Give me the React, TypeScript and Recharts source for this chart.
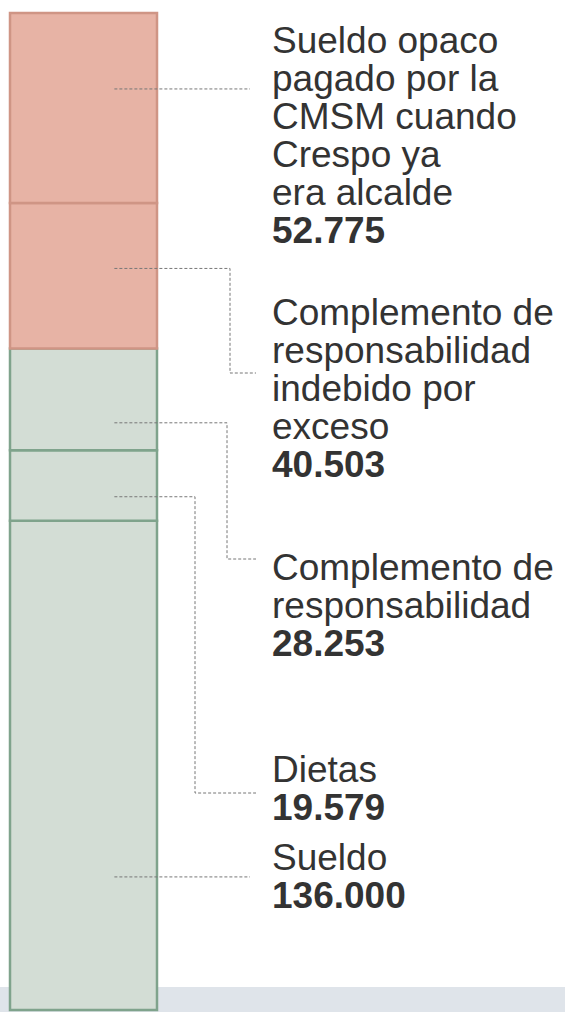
import { BarChart, Bar, XAxis, YAxis } from 'recharts';

// segments, bottom to top
const seriesKeys = ['sueldo', 'dietas', 'complemento', 'indebido', 'opaco'];
const values = [136000, 19579, 28253, 40503, 52775];
const labelLines = [
  ['Sueldo'],
  ['Dietas'],
  ['Complemento de', 'responsabilidad'],
  ['Complemento de', 'responsabilidad', 'indebido por', 'exceso'],
  ['Sueldo opaco', 'pagado por la', 'CMSM cuando', 'Crespo ya', 'era alcalde'],
];

const fill = ['#d3ddd5', '#d3ddd5', '#d3ddd5', '#e7b3a5', '#e7b3a5'];
const stroke = ['#7fa38c', '#7fa38c', '#7fa38c', '#cf9585', '#cf9585'];

// callout layout: where the leader leaves the segment, elbow, and text block
const callouts = [
  { fy: 0.728, elbowX: null, endY: null, textY: 870 },
  { fy: 0.66, elbowX: 195, endY: 793, textY: 782 },
  { fy: 0.73, elbowX: 227, endY: 559, textY: 580 },
  { fy: 0.45, elbowX: 230, endY: 373, textY: 325 },
  { fy: 0.4, elbowX: null, endY: null, textY: 53 },
];

const fmt = (v: number) => String(v).replace(/\B(?=(\d{3})+(?!\d))/g, '.');

const row: { [key: string]: string | number } = { name: 'total' };
seriesKeys.forEach((k, i) => (row[k] = values[i]));
const chartData = [row];
const total = values.reduce((a, b) => a + b, 0);

const TEXT_X = 272;
const LINE_H = 38;

const Callout = (props: any) => {
  const i: number = props.idx;
  const vb = props.viewBox ?? props;
  const { x, y, width, height } = vb;
  const c = callouts[i];
  const sx = x + width * 0.71;
  const sy = y + height * c.fy;
  let d: string;
  if (c.elbowX == null) {
    d = `M${sx},${sy} H${TEXT_X - 22}`;
  } else {
    d = `M${sx},${sy} H${c.elbowX} V${c.endY} H${TEXT_X - 16}`;
  }
  const lines = labelLines[i];
  return (
    <g>
      <path d={d} fill="none" stroke="#777" strokeWidth={1} strokeDasharray="3 2" />
      <text
        x={TEXT_X}
        y={c.textY}
        fontFamily="'Liberation Sans', Arial, sans-serif"
        fontSize={37}
        fill="#333"
      >
        {lines.map((l, j) => (
          <tspan key={j} x={TEXT_X} y={c.textY + j * LINE_H}>
            {l}
          </tspan>
        ))}
        <tspan x={TEXT_X} y={c.textY + lines.length * LINE_H} fontWeight={700}>
          {fmt(values[i])}
        </tspan>
      </text>
    </g>
  );
};

const App = () => {
  return (
    <div style={{ position: 'absolute', left: 0, top: 0, width: 565, height: 1012, background: '#fff' }}>
      <div style={{ position: 'absolute', left: 0, top: 987, width: 565, height: 25, background: '#dfe4ea' }} />
      <div style={{ position: 'absolute', left: 0, top: 0 }}>
        <BarChart
          width={565}
          height={1012}
          data={chartData}
          margin={{ top: 13, right: 408, left: 10, bottom: 2 }}
          barCategoryGap={0}
        >
          <XAxis dataKey="name" hide />
          <YAxis hide domain={[0, total]} />
          {seriesKeys.map((k, i) => (
            <Bar
              key={k}
              dataKey={k}
              stackId="a"
              fill={fill[i]}
              stroke={stroke[i]}
              strokeWidth={2.5}
              isAnimationActive={false}
              label={(p: any) => <Callout {...p} idx={i} />}
            />
          ))}
        </BarChart>
      </div>
    </div>
  );
};

export default App;
